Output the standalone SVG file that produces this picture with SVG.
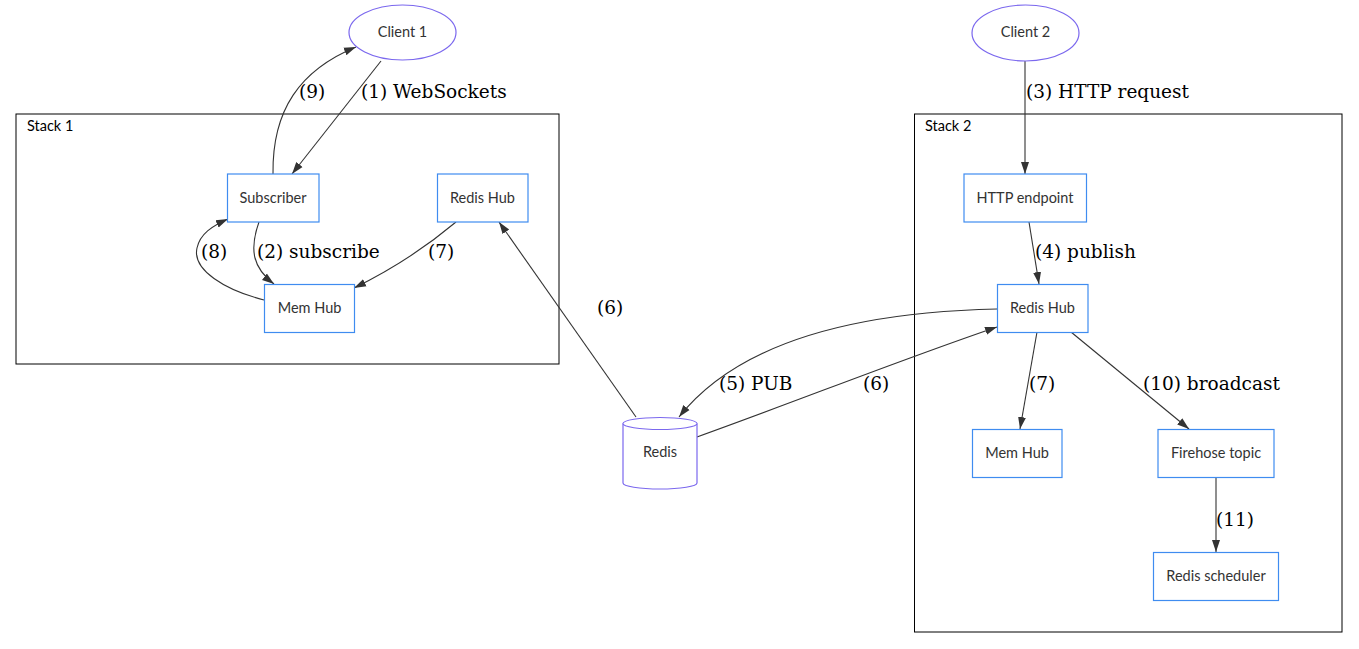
<svg xmlns="http://www.w3.org/2000/svg" width="1359" height="649" viewBox="0 0 1359 649">
<defs>
<style>
.cluster{fill:none;stroke:#000;stroke-width:1}
.clabel{font-family:Lato,"Noto Sans",sans-serif;font-size:14.5px;fill:#000}
.box{fill:#fff;stroke:#3f8cf0;stroke-width:1.2}
.ell{fill:#fff;stroke:#7b68ee;stroke-width:1.2}
.ntext{font-family:Lato,"Noto Sans",sans-serif;font-size:14.5px;fill:#333;text-anchor:middle;dominant-baseline:central}
.edge{fill:none;stroke:#333;stroke-width:1.1}
.elabel{font-family:"DejaVu Serif",serif;font-size:18.5px;fill:#000}
</style>
<marker id="arr" viewBox="0 0 12 10" refX="12" refY="5" markerWidth="12" markerHeight="10" markerUnits="userSpaceOnUse" orient="auto">
<path d="M0,1 L12,5 L0,9 Z" fill="#333"/>
</marker>
</defs>
<rect width="1359" height="649" fill="#fff"/>
<g id="stack1">
<rect class="cluster" x="16" y="114" width="543" height="250"/>
<text class="clabel" x="27" y="131">Stack 1</text>
</g>
<g id="stack2">
<rect class="cluster" x="914.5" y="114" width="427.5" height="518"/>
<text class="clabel" x="925" y="131">Stack 2</text>
</g>
<g id="connectors">
<path class="edge" marker-end="url(#arr)" d="M381,61 L292,174"/>
<text class="elabel" x="361" y="98">(1) WebSockets</text>
<path class="edge" marker-end="url(#arr)" d="M273,174 C272,110 300,70 356,47"/>
<text class="elabel" x="299" y="98">(9)</text>
<path class="edge" marker-end="url(#arr)" d="M259,222 C249,250 253,268 274,284"/>
<text class="elabel" x="257" y="258">(2) subscribe</text>
<path class="edge" marker-end="url(#arr)" d="M264,300 C225,290 192,270 197,248 C200,234 212,226 228,219"/>
<text class="elabel" x="201" y="258">(8)</text>
<path class="edge" marker-end="url(#arr)" d="M456,222 C425,248 395,268 354,288"/>
<text class="elabel" x="428" y="258">(7)</text>
<path class="edge" marker-end="url(#arr)" d="M636,417 L499,222"/>
<text class="elabel" x="597" y="314">(6)</text>
<path class="edge" marker-end="url(#arr)" d="M1025,61 L1025,174"/>
<text class="elabel" x="1026" y="98">(3) HTTP request</text>
<path class="edge" marker-end="url(#arr)" d="M1029,222 L1039,284"/>
<text class="elabel" x="1035" y="258">(4) publish</text>
<path class="edge" marker-end="url(#arr)" d="M997,309 C860,312 740,340 679,417"/>
<text class="elabel" x="719" y="390">(5) PUB</text>
<path class="edge" marker-end="url(#arr)" d="M697,437 C800,400 900,360 997,327"/>
<text class="elabel" x="863" y="390">(6)</text>
<path class="edge" marker-end="url(#arr)" d="M1037,332 L1020,429"/>
<text class="elabel" x="1029" y="390">(7)</text>
<path class="edge" marker-end="url(#arr)" d="M1071,332 L1189,429"/>
<text class="elabel" x="1143" y="390">(10) broadcast</text>
<path class="edge" marker-end="url(#arr)" d="M1216,477 L1216,552"/>
<text class="elabel" x="1216" y="526">(11)</text>
</g>
<g id="client1">
<ellipse class="ell" cx="402.5" cy="32.5" rx="53.5" ry="27.5"/>
<text class="ntext" x="402.5" y="31.5">Client 1</text>
</g>
<g id="client2">
<ellipse class="ell" cx="1025.5" cy="33" rx="53.5" ry="28"/>
<text class="ntext" x="1025.5" y="31.5">Client 2</text>
</g>
<g id="subscriber">
<rect class="box" x="227.5" y="174" width="91.5" height="48"/>
<text class="ntext" x="273" y="197">Subscriber</text>
</g>
<g id="redishub1">
<rect class="box" x="437.5" y="174" width="90.5" height="48"/>
<text class="ntext" x="482.5" y="197">Redis Hub</text>
</g>
<g id="memhub1">
<rect class="box" x="264.5" y="284.5" width="90" height="48"/>
<text class="ntext" x="309.5" y="307">Mem Hub</text>
</g>
<g id="redis">
<path class="ell" d="M623,423.5 L623,483 A37,6 0 0 0 697,483 L697,423.5 A37,6 0 0 0 623,423.5 Z"/>
<path class="ell" fill="none" d="M623,423.5 A37,6 0 0 0 697,423.5"/>
<text class="ntext" x="660" y="451">Redis</text>
</g>
<g id="http">
<rect class="box" x="964" y="174" width="122.5" height="48"/>
<text class="ntext" x="1025" y="197">HTTP endpoint</text>
</g>
<g id="redishub2">
<rect class="box" x="997.5" y="284.5" width="90.5" height="48"/>
<text class="ntext" x="1042.5" y="307">Redis Hub</text>
</g>
<g id="memhub2">
<rect class="box" x="972.5" y="429.5" width="89.5" height="48"/>
<text class="ntext" x="1017" y="452">Mem Hub</text>
</g>
<g id="firehose">
<rect class="box" x="1158" y="429.5" width="116" height="48"/>
<text class="ntext" x="1216" y="452">Firehose topic</text>
</g>
<g id="scheduler">
<rect class="box" x="1153.5" y="552.5" width="125" height="48"/>
<text class="ntext" x="1216" y="575">Redis scheduler</text>
</g>
</svg>
